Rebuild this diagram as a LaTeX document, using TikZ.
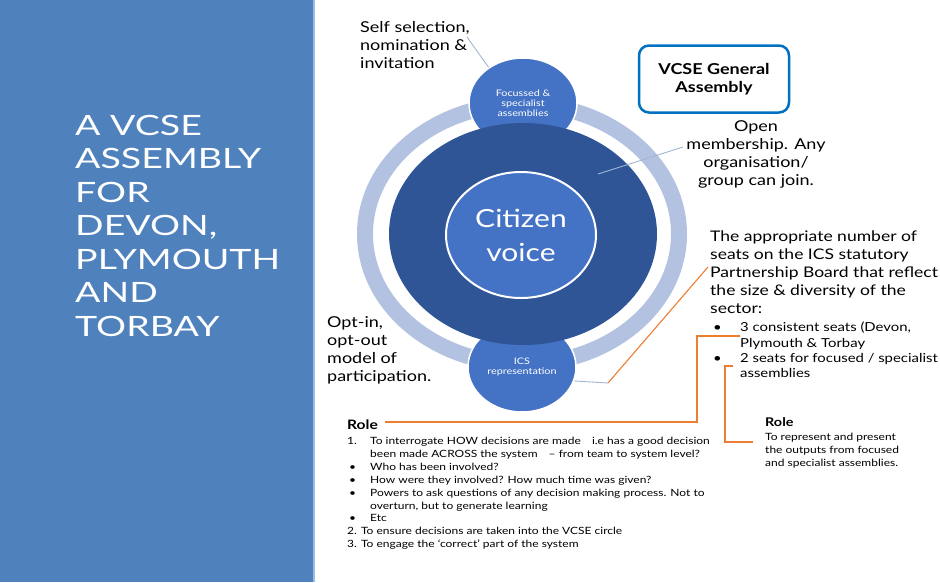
\documentclass[tikz,border=0pt]{standalone}
\usepackage{fontspec}
\setmainfont{Lato}[FakeStretch=1.2]
\newfontfamily\titlefont{Lato}[FakeStretch=1.34]
\usetikzlibrary{shapes.geometric}

\definecolor{panelblue}{RGB}{79,129,189}
\definecolor{paneledge}{RGB}{150,190,235}
\definecolor{ringblue}{RGB}{180,194,225}
\definecolor{darkblue}{RGB}{47,85,151}
\definecolor{midblue}{RGB}{68,114,196}
\definecolor{boxblue}{RGB}{0,112,192}
\definecolor{leadgrey}{RGB}{160,182,212}
\definecolor{seatorange}{RGB}{237,125,49}

\tikzset{
  blob/.style={ellipse, draw=white, line width=1.5pt, fill=midblue, minimum width=108pt,
    minimum height=90pt, inner sep=0pt, text=white, align=center, font=\fontsize{9}{10}\selectfont},
  say/.style={inner sep=0pt, align=left, font=\fontsize{15}{18}\selectfont},
  small/.style={inner sep=0pt, align=left, font=\fontsize{10}{12.9}\selectfont},
  rolehead/.style={inner sep=0pt, anchor=north west, font=\bfseries\fontsize{13}{15}\selectfont},
  leader/.style={draw=leadgrey, line width=0.9pt},
  seatlink/.style={draw=seatorange, line width=1.1pt}
}

\begin{document}
\begin{tikzpicture}[x=1pt, y=-1pt]
        \useasboundingbox (0,0) rectangle (940,582);

                % Side panel
                \fill[panelblue] (0,0) rectangle (313,582);
                \fill[paneledge] (313,0) rectangle (315,582);
                \node[anchor=north west, inner sep=0pt, align=left, text=white,
                  font=\titlefont\fontsize{28}{33.5}\selectfont] (title) at (75,115)
                  {A VCSE\\ASSEMBLY\\FOR\\DEVON,\\PLYMOUTH\\AND\\TORBAY};

                % Circles
                \node[ellipse, draw=ringblue, line width=16pt, minimum width=314pt,
                  minimum height=260pt] (ring) at (522,234) {};
                \node[blob] (focus) at (523,103) {Focussed \&\\specialist\\assemblies};
                \node[blob] (ics) at (522,367) {ICS\\representation};
                \node[ellipse, fill=darkblue, minimum width=268pt, minimum height=222pt,
                  inner sep=0pt] (dark) at (523,234) {};
                \node[ellipse, fill=midblue, draw=white, line width=2pt, minimum width=150pt,
                  minimum height=126pt, inner sep=0pt, text=white, align=center,
                  font=\fontsize{25}{34}\selectfont] (citizen) at (521,235) {Citizen\\voice};

                % Texts
                \node[say, anchor=north west] (self) at (360,21) {Self selection,\\nomination \&\\invitation};
                \node[draw=boxblue, line width=2.5pt, rounded corners=10pt, minimum width=150pt,
                  minimum height=67pt, align=center, font=\bfseries\fontsize{15}{18}\selectfont]
                  (general) at (714,79) {VCSE General\\Assembly};
                \node[say, align=center, anchor=north] (open) at (756,120)
                  {Open\\membership. Any\\organisation/\\group can join.};
                \node[say, anchor=north west, font=\fontsize{14.6}{18}\selectfont] (seats) at (710,231)
                  {The appropriate number of\\seats on the ICS statutory\\Partnership Board that reflect\\the size \& diversity of the\\sector:};
                \node[inner sep=0pt, anchor=north west, align=left, font=\fontsize{12.4}{15.3}\selectfont]
                  (bullets) at (713,322)
                  {\makebox[27pt][l]{\textbullet}3 consistent seats (Devon,\\
                   \hspace*{27pt}Plymouth \& Torbay\\
                   \makebox[27pt][l]{\textbullet}2 seats for focused / specialist\\
                   \hspace*{27pt}assemblies};
                \node[say, anchor=north west] (optin) at (327,316) {Opt-in,\\opt-out\\model of\\participation.};

                \node[rolehead] (roleA) at (347,420) {Role};
                \node[small, anchor=north west] (duties) at (347,437)
                  {\makebox[23pt][l]{1.}To interrogate HOW decisions are made\hspace{8pt} i.e has a good decision\\
                   \hspace*{23pt}been made ACROSS the system\hspace{8pt} -- from team to system level?\\
                   \makebox[23pt][l]{\hspace{2pt}\textbullet}Who has been involved?\\
                   \makebox[23pt][l]{\hspace{2pt}\textbullet}How were they involved? How much time was given?\\
                   \makebox[23pt][l]{\hspace{2pt}\textbullet}Powers to ask questions of any decision making process. Not to\\
                   \hspace*{23pt}overturn, but to generate learning\\
                   \makebox[23pt][l]{\hspace{2pt}\textbullet}Etc\\
                   2. To ensure decisions are taken into the VCSE circle\\
                   3. To engage the `correct' part of the system};
                \node[rolehead, font=\bfseries\fontsize{12}{14}\selectfont] (roleB) at (765,417) {Role};
                \node[small, anchor=north west] (remit) at (765,433)
                  {To represent and present\\the outputs from focused\\and specialist assemblies.};

                % Leaders
                \coordinate (selfend) at (467,37);
                \coordinate (openend) at (683,147);
                \coordinate (openin) at (598,174);
                \coordinate (icsbend) at (608,383);
                \coordinate (seatsmark) at (708,267);
                \coordinate (bulletA) at (740,336);
                \coordinate (bulletB) at (733,366);
                \coordinate (roleAend) at (385,422);
                \coordinate (remitmark) at (753,442);

                \draw[leader] (selfend) -- (focus.134);
                \draw[leader] (openend) -- (openin);
                \draw[leader] (ics.-15) -- (icsbend);
                \draw[seatlink] (icsbend) -- (seatsmark);
                \draw[seatlink] (bulletA) -- ++(-43,0) |- (roleAend);
                \draw[seatlink] (bulletB) -- ++(-8,0) |- (remitmark);

\end{tikzpicture}
\end{document}
